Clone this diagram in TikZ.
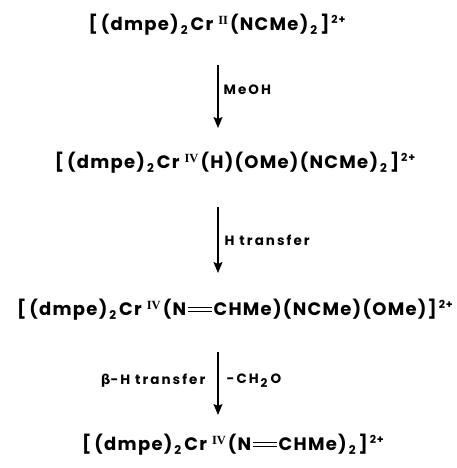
\documentclass[tikz,border=0pt]{standalone}
\usepackage{fontspec}
\setmainfont{Poppins}
\newfontfamily\chemfont[LetterSpace=7]{Poppins}
\newfontfamily\condfont[LetterSpace=15]{Poppins}
\newfontfamily\romfont{Liberation Serif}
\newfontfamily\grkfont{DejaVu Sans}
\usetikzlibrary{arrows.meta}

% oxidation state, charge, subscript, double bond
\newcommand{\oxst}[1]{\kern5pt\raisebox{6pt}{\romfont\bfseries\fontsize{12.5}{12}\selectfont #1}\kern2pt}
\newcommand{\chg}{\kern2pt\raisebox{7pt}{\fontsize{11}{11}\selectfont 2+}}
\newcommand{\sub}[1]{\kern2pt\raisebox{-4pt}{\fontsize{12}{12}\selectfont #1}\kern3pt}
\newcommand{\dbond}{\kern2pt\rlap{\raisebox{0.2em}{\rule{1.3em}{0.09em}}}\raisebox{0.42em}{\rule{1.3em}{0.09em}}\kern2pt}
\newcommand{\brk}{[\kern3pt}

\begin{document}
\begin{tikzpicture}[x=1pt,y=-1pt,line width=1.4pt,
  species/.style={font=\chemfont\bfseries\fontsize{18}{20}\selectfont,inner sep=0pt},
  cond/.style={font=\condfont\bfseries\fontsize{13.5}{15}\selectfont,inner sep=0pt},
  step arrow/.style={-{Stealth[length=11pt,width=9pt,inset=2pt]}}]
  \useasboundingbox (0,0) rectangle (456,468);

  % species
  \node[species] (s1) at (217,25) {\brk(dmpe)\sub{2}Cr\oxst{II}(NCMe)\sub{2}]\chg};
  \node[species] (s2) at (235,163) {\brk(dmpe)\sub{2}Cr\oxst{IV}(H)(OMe)(NCMe)\sub{2}]\chg};
  \node[species] (s3) at (235,310) {\brk(dmpe)\sub{2}Cr\oxst{IV}(N\dbond CHMe)(NCMe)(OMe)]\chg};
  \node[species] (s4) at (233,445) {\brk(dmpe)\sub{2}Cr\oxst{IV}(N\dbond CHMe)\sub{2}]\chg};

  % arrow ends
  \coordinate (a1) at (218,65);
  \coordinate (b1) at (218,128);
  \coordinate (a2) at (218,207);
  \coordinate (b2) at (218,273);
  \coordinate (a3) at (218,352);
  \coordinate (b3) at (218,415);

  % reaction steps
  \draw[step arrow] (a1) -- node[cond,right=5pt,pos=0.4] (c1) {MeOH} (b1);
  \draw[step arrow] (a2) -- node[cond,right=6pt,pos=0.5] (c2) {H transfer} (b2);
  \draw[step arrow] (a3) -- node[cond,right=8pt,pos=0.45] (c3) {-CH\sub{2}O}
                                node[cond,left=12pt,pos=0.45] (c4) {{\grkfont\bfseries β}-H transfer} (b3);
\end{tikzpicture}
\end{document}
